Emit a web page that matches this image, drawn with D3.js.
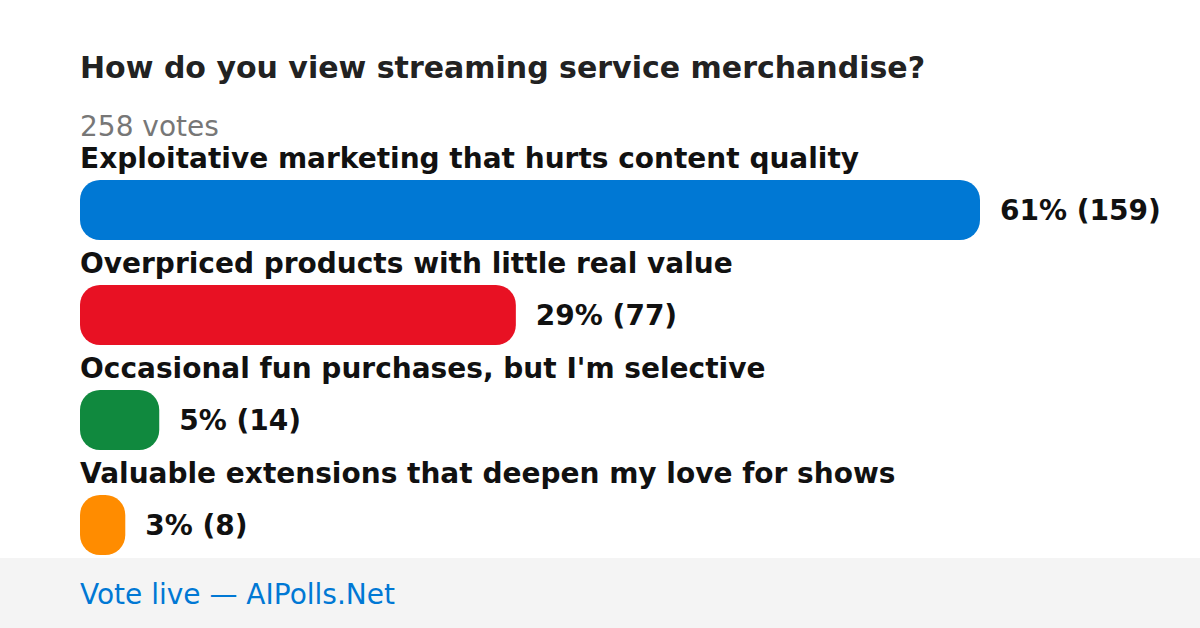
<!DOCTYPE html>
<html><head><meta charset="utf-8">
<script src="https://cdn.jsdelivr.net/npm/d3@7"></script>
<style>html,body{margin:0;padding:0;background:#fff}svg{display:block;font-family:"DejaVu Sans",sans-serif}</style>
</head><body>
<svg id="c" width="1200" height="628"></svg>
<script>
const title = "How do you view streaming service merchandise?";
const totalVotes = 258;
const categories = [
  "Exploitative marketing that hurts content quality",
  "Overpriced products with little real value",
  "Occasional fun purchases, but I'm selective",
  "Valuable extensions that deepen my love for shows"
];
const votes = [159, 77, 14, 8];
const percents = [61, 29, 5, 3];
const colors = ["#0078D4", "#E81123", "#10893E", "#FF8C00"];
const footerText = "Vote live — AIPolls.Net";

const svg = d3.select("#c");
const left = 80, barH = 60, firstTop = 180, step = 105;

svg.append("rect").attr("x",0).attr("y",0).attr("width",1200).attr("height",628).attr("fill","#fff");

svg.append("text").attr("x",left).attr("y",78).attr("fill","#222")
  .attr("font-size",30).attr("font-weight","bold").text(title);
svg.append("text").attr("x",left).attr("y",136).attr("fill","#777")
  .attr("font-size",28).text(totalVotes + " votes");

const x = d3.scaleLinear().domain([0, d3.max(votes)]).range([0, 900]);
const y = d3.scaleBand().domain(d3.range(categories.length))
  .range([firstTop, firstTop + step*categories.length]).paddingInner(0);

const g = svg.selectAll("g.row").data(categories).join("g").attr("class","row");
g.append("text").attr("x",left).attr("y",(d,i)=>y(i)-12).attr("fill","#111")
  .attr("font-size",28).attr("font-weight","bold").text(d=>d);
g.append("rect").attr("x",left).attr("y",(d,i)=>y(i))
  .attr("width",(d,i)=>x(votes[i])).attr("height",barH)
  .attr("rx",(d,i)=>Math.min(20, x(votes[i])/2)).attr("ry",20)
  .attr("fill",(d,i)=>colors[i]);
g.append("text").attr("x",(d,i)=>left + x(votes[i]) + 20).attr("y",(d,i)=>y(i)+barH/2+10)
  .attr("fill","#111").attr("font-size",28).attr("font-weight","bold")
  .text((d,i)=>percents[i] + "% (" + votes[i] + ")");

svg.append("rect").attr("x",0).attr("y",558).attr("width",1200).attr("height",70).attr("fill","#f4f4f4");
svg.append("text").attr("x",left).attr("y",604).attr("fill","#0078D4")
  .attr("font-size",28).text(footerText);
</script>
</body></html>
